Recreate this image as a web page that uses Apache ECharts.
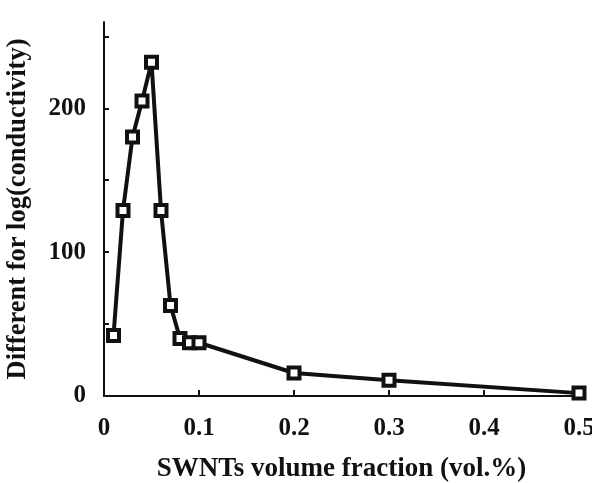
<!DOCTYPE html>
<html><head><meta charset="utf-8">
<script src="https://cdn.jsdelivr.net/npm/echarts@6/dist/echarts.min.js"></script>
<style>html,body{margin:0;padding:0;background:#fff}#c{width:592px;height:483px}</style>
</head><body><div id="c"></div>
<script>
var xValues = [0.01, 0.02, 0.03, 0.04, 0.05, 0.06, 0.07, 0.08, 0.09, 0.10, 0.20, 0.30, 0.50];
var yValues = [42, 129, 180, 205, 232, 129, 63, 40, 37, 37, 16, 11, 2];
var xTicks = [0, 0.1, 0.2, 0.3, 0.4, 0.5];
var yTicks = [0, 50, 100, 150, 200, 250];
var yLabels = [0, 100, 200];

var font = '"Liberation Serif", "Times New Roman", serif';
var chart = echarts.init(document.getElementById('c'));
chart.setOption({
  animation: false,
  grid: {left: 104, right: 13, top: 22, bottom: 87, containLabel: false, outerBoundsMode: 'none'},
  xAxis: {
    type: 'value', min: 0, max: 0.5, interval: 0.1,
    name: 'SWNTs volume fraction (vol.%)', nameLocation: 'middle', nameGap: 60,
    nameTextStyle: {fontFamily: font, fontWeight: 'bold', fontSize: 27, color: '#111'},
    axisLine: {show: true, onZero: false, lineStyle: {color: '#111', width: 2}},
    axisTick: {show: true, inside: true, length: 6, lineStyle: {color: '#111', width: 2}},
    axisLabel: {fontFamily: font, fontWeight: 'bold', fontSize: 25, color: '#111', margin: 20,
      formatter: function (v) { var r = Math.round(v * 10) / 10; return xTicks.indexOf(r) >= 0 ? String(r) : ''; }},
    splitLine: {show: false}
  },
  yAxis: {
    type: 'value', min: 0, max: 260,
    name: 'Different for log(conductivity)', nameLocation: 'middle', nameGap: 72,
    nameTextStyle: {fontFamily: font, fontWeight: 'bold', fontSize: 26.5, color: '#111'},
    axisLine: {show: true, onZero: false, lineStyle: {color: '#111', width: 2}},
    axisTick: {show: true, inside: true, length: 5, customValues: yTicks, lineStyle: {color: '#111', width: 2}},
    axisLabel: {fontFamily: font, fontWeight: 'bold', fontSize: 25, color: '#111', margin: 18, customValues: yLabels},
    splitLine: {show: false}
  },
  series: [{
    type: 'line',
    data: xValues.map(function (x, i) { return [x, yValues[i]]; }),
    symbol: 'rect', symbolSize: 11, showAllSymbol: true,
    lineStyle: {color: '#111', width: 4},
    itemStyle: {color: '#fff', borderColor: '#111', borderWidth: 4}
  }]
});
</script>
</body></html>
